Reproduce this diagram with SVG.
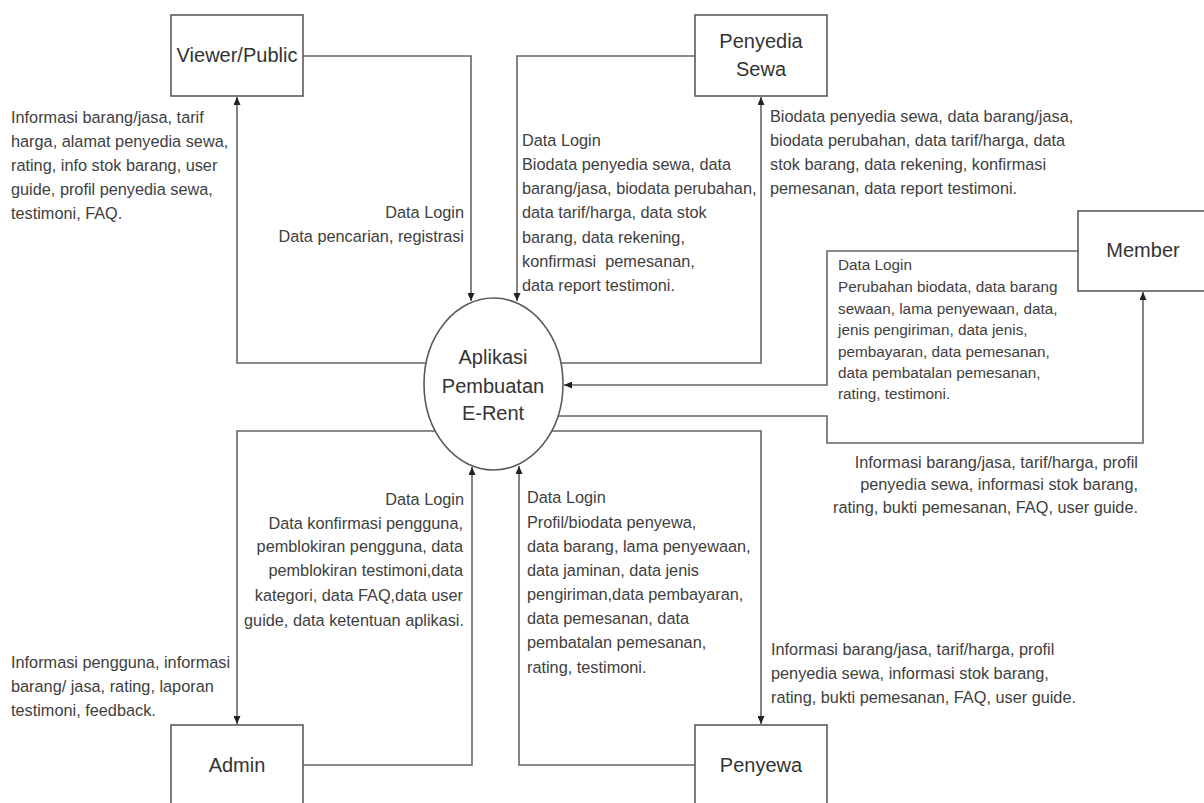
<svg xmlns="http://www.w3.org/2000/svg" width="1204" height="803" viewBox="0 0 1204 803">
<style>
.box{fill:#fff;stroke:#5a5a5a;stroke-width:1.6}
.lbl{font-family:"Liberation Sans",Arial,sans-serif;font-size:20px;fill:#333;text-anchor:middle}
.t{font-family:"Liberation Sans",Arial,sans-serif;font-size:16.3px;fill:#404040}
.tm{font-family:"Liberation Sans",Arial,sans-serif;font-size:15.3px;fill:#404040}
.e{text-anchor:end}
.c{fill:none;stroke:#666;stroke-width:1.6}
</style>
<defs>
<marker id="arr" markerWidth="8" markerHeight="7" refX="8" refY="3.5" orient="auto" markerUnits="userSpaceOnUse">
<path d="M0,0 L8,3.5 L0,7 z" fill="#222"/>
</marker>
</defs>
<rect width="1204" height="803" fill="#fff"/>
<g id="connectors">
<path class="c" d="M303,56 H471 V301" marker-end="url(#arr)"/>
<path class="c" d="M426,363 H237 V97" marker-end="url(#arr)"/>
<path class="c" d="M695,56 H517 V301" marker-end="url(#arr)"/>
<path class="c" d="M561,363 H761 V97" marker-end="url(#arr)"/>
<path class="c" d="M1078,251 H827 V385 H564" marker-end="url(#arr)"/>
<path class="c" d="M558,416 H827 V443 H1143 V292" marker-end="url(#arr)"/>
<path class="c" d="M435,431 H237 V724" marker-end="url(#arr)"/>
<path class="c" d="M303,765 H472 V467" marker-end="url(#arr)"/>
<path class="c" d="M552,431 H761 V724" marker-end="url(#arr)"/>
<path class="c" d="M695,765 H519 V466" marker-end="url(#arr)"/>
</g>
<g id="process">
<ellipse cx="493.5" cy="384" rx="69.5" ry="86" fill="#fff" stroke="#5a5a5a" stroke-width="1.6"/>
<text class="lbl" x="493" y="364">Aplikasi</text>
<text class="lbl" x="493" y="393">Pembuatan</text>
<text class="lbl" x="493" y="420">E-Rent</text>
</g>
<g id="viewer">
<rect class="box" x="171" y="15" width="132" height="81"/>
<text class="lbl" x="237" y="62">Viewer/Public</text>
</g>
<g id="penyedia">
<rect class="box" x="695" y="15" width="132" height="81"/>
<text class="lbl" x="761" y="48">Penyedia</text>
<text class="lbl" x="761" y="76">Sewa</text>
</g>
<g id="member">
<rect class="box" x="1078" y="211" width="132" height="80"/>
<text class="lbl" x="1143" y="257">Member</text>
</g>
<g id="admin">
<rect class="box" x="171" y="725" width="132" height="81"/>
<text class="lbl" x="237" y="772">Admin</text>
</g>
<g id="penyewa">
<rect class="box" x="695" y="725" width="132" height="81"/>
<text class="lbl" x="761" y="772">Penyewa</text>
</g>
<g id="labels">
<text class="t" x="11" y="123">Informasi barang/jasa, tarif</text>
<text class="t" x="11" y="147">harga, alamat penyedia sewa,</text>
<text class="t" x="11" y="171">rating, info stok barang, user</text>
<text class="t" x="11" y="195">guide, profil penyedia sewa,</text>
<text class="t" x="11" y="219">testimoni, FAQ.</text>

<text class="t e" x="464" y="218">Data Login</text>
<text class="t e" x="464" y="242">Data pencarian, registrasi</text>

<text class="t" x="522" y="146">Data Login</text>
<text class="t" x="522" y="170">Biodata penyedia sewa, data</text>
<text class="t" x="522" y="194">barang/jasa, biodata perubahan,</text>
<text class="t" x="522" y="218">data tarif/harga, data stok</text>
<text class="t" x="522" y="243">barang, data rekening,</text>
<text class="t" x="522" y="267" xml:space="preserve">konfirmasi  pemesanan,</text>
<text class="t" x="522" y="291">data report testimoni.</text>

<text class="t" x="770" y="122">Biodata penyedia sewa, data barang/jasa,</text>
<text class="t" x="770" y="146">biodata perubahan, data tarif/harga, data</text>
<text class="t" x="770" y="170">stok barang, data rekening, konfirmasi</text>
<text class="t" x="770" y="194">pemesanan, data report testimoni.</text>

<text class="tm" x="838" y="270">Data Login</text>
<text class="tm" x="838" y="292">Perubahan biodata, data barang</text>
<text class="tm" x="838" y="314">sewaan, lama penyewaan, data,</text>
<text class="tm" x="838" y="335">jenis pengiriman, data jenis,</text>
<text class="tm" x="838" y="357">pembayaran, data pemesanan,</text>
<text class="tm" x="838" y="378">data pembatalan pemesanan,</text>
<text class="tm" x="838" y="399">rating, testimoni.</text>

<text class="t e" x="1138" y="468">Informasi barang/jasa, tarif/harga, profil</text>
<text class="t e" x="1138" y="490">penyedia sewa, informasi stok barang,</text>
<text class="t e" x="1138" y="513">rating, bukti pemesanan, FAQ, user guide.</text>

<text class="t e" x="464" y="505">Data Login</text>
<text class="t e" x="463" y="529">Data konfirmasi pengguna,</text>
<text class="t e" x="463" y="552">pemblokiran pengguna, data</text>
<text class="t e" x="463" y="576">pemblokiran testimoni,data</text>
<text class="t e" x="463" y="601">kategori, data FAQ,data user</text>
<text class="t e" x="464" y="626">guide, data ketentuan aplikasi.</text>

<text class="t" x="11" y="668">Informasi pengguna, informasi</text>
<text class="t" x="11" y="692">barang/ jasa, rating, laporan</text>
<text class="t" x="11" y="716">testimoni, feedback.</text>

<text class="t" x="527" y="503">Data Login</text>
<text class="t" x="527" y="528">Profil/biodata penyewa,</text>
<text class="t" x="527" y="552">data barang, lama penyewaan,</text>
<text class="t" x="527" y="576">data jaminan, data jenis</text>
<text class="t" x="527" y="600">pengiriman,data pembayaran,</text>
<text class="t" x="527" y="624">data pemesanan, data</text>
<text class="t" x="527" y="648">pembatalan pemesanan,</text>
<text class="t" x="527" y="673">rating, testimoni.</text>

<text class="t" x="771" y="655">Informasi barang/jasa, tarif/harga, profil</text>
<text class="t" x="771" y="679">penyedia sewa, informasi stok barang,</text>
<text class="t" x="771" y="703">rating, bukti pemesanan, FAQ, user guide.</text>
</g>
</svg>
